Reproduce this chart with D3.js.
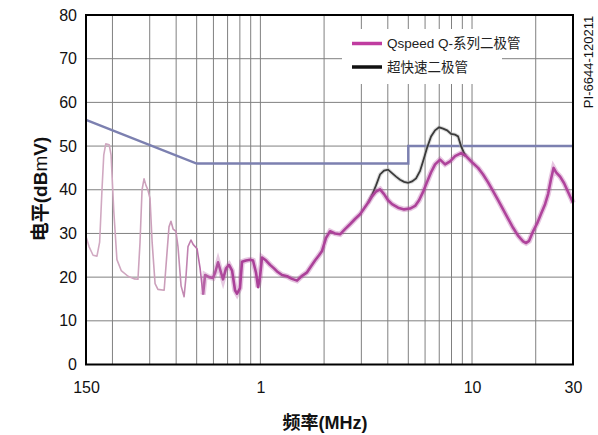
<!DOCTYPE html>
<html>
<head>
<meta charset="utf-8">
<script src="https://cdn.jsdelivr.net/npm/d3@7"></script>
<style>
  body { margin: 0; background: #fff; }
  svg { display: block; font-family: "Liberation Sans", Arial, "Noto Sans CJK SC", sans-serif; }
</style>
</head>
<body>
<div id="chart"></div>
<script>
// frequency (MHz) and level (dBµV)
var qFreq = [0.150, 0.155, 0.162, 0.169, 0.174, 0.1785, 0.182, 0.186, 0.193, 0.197, 0.203, 0.210, 0.220, 0.237, 0.253, 0.264,
  0.270, 0.276, 0.282, 0.288, 0.294, 0.301, 0.308, 0.318, 0.328, 0.351, 0.360, 0.370, 0.378, 0.387, 0.399, 0.408,
  0.422, 0.436, 0.445, 0.455, 0.470, 0.481, 0.502, 0.519, 0.536, 0.548, 0.572, 0.597, 0.611, 0.631, 0.652, 0.666,
  0.688, 0.711, 0.735, 0.759, 0.776, 0.801, 0.819, 0.855, 0.894, 0.923, 0.954, 0.975, 0.996, 1.018, 1.064, 1.111,
  1.160, 1.199, 1.266, 1.337, 1.411, 1.490, 1.574, 1.662, 1.736, 1.812, 1.893, 1.956, 2.043, 2.134, 2.253, 2.379,
  2.512, 2.652, 2.801, 2.958, 3.089, 3.226, 3.370, 3.520, 3.677, 3.840, 4.011, 4.189, 4.475, 4.776, 5.097, 5.382,
  5.622, 5.871, 6.133, 6.405, 6.69, 7.065, 7.461, 7.878, 8.316, 8.877, 9.375, 10.0, 10.68, 11.28, 11.91, 12.57,
  13.28, 14.02, 14.80, 15.63, 16.50, 17.43, 18.02, 18.61, 19.44, 20.3, 21.2, 22.14, 22.88, 23.64, 24.29, 24.96,
  26.07, 27.24, 28.44, 29.71, 30.0];
var qLevel = [29.3, 27, 25, 24.8, 28, 40, 48, 50.5, 50.3, 48, 35, 24, 21.5, 20.2, 19.6, 19.5,
  28, 40, 42.5, 41, 40, 38, 28, 18.5, 17.2, 17, 24, 31.5, 32.8, 31, 30.5, 27,
  18, 15.5, 20, 27, 28.5, 27.5, 26.5, 22, 16, 20.5, 20, 19.8, 21, 23.4, 21, 19.5,
  22, 22.8, 21.5, 17, 16.2, 17.5, 23.5, 23.8, 24, 23.8, 21, 17.7, 20, 24.5, 23.8, 22.8,
  22, 21.3, 20.5, 20.2, 19.6, 19.2, 20.3, 21.1, 22.5, 23.8, 25, 26, 29, 30.5, 30, 29.8,
  31, 32.1, 33.3, 34.4, 35.7, 37, 38.5, 39.6, 40.1, 39, 37.6, 36.7, 35.9, 35.5, 35.7, 36.3,
  37.6, 39.5, 41.8, 44, 45.8, 46.9, 45.8, 46.5, 47.7, 48.4, 47.7, 46.3, 45, 43.5, 41.7, 39.7,
  37.6, 35.5, 33.4, 31.3, 29.5, 28.2, 27.8, 28.3, 30.5, 32.3, 34.5, 36.7, 39, 42.5, 45, 44,
  43, 41.5, 39.5, 37.5, 37];

var ufFreq = [3.226, 3.370, 3.520, 3.677, 3.840, 4.011, 4.189, 4.376, 4.571, 4.776, 4.988, 5.21, 5.44, 5.682, 5.871,
  6.133, 6.405, 6.69, 6.988, 7.3, 7.623, 7.962, 8.316, 8.592, 8.877, 9.174, 9.375];
var ufLevel = [37, 38.8, 41, 43.5, 44.4, 44.6, 43.8, 43, 42.3, 41.8, 41.6, 41.9, 42.6, 44.3, 46.5,
  49.6, 52.2, 53.6, 54.3, 54, 53.6, 52.8, 52.6, 52.2, 50, 48.4, 47.7];

var limitFreq = [0.15, 0.5, 5, 5, 30];
var limitLevel = [56, 46, 46, 50, 50];

var yTicks = [0, 10, 20, 30, 40, 50, 60, 70, 80];
var xGrid = [0.2, 0.3, 0.4, 0.5, 0.6, 0.7, 0.8, 0.9, 1, 2, 3, 4, 5, 6, 7, 8, 9, 10, 20];
var xTicks = [0.15, 1, 10, 30];
var xTickLabels = ["150", "1", "10", "30"];

var legendNames = ["Qspeed Q-系列二极管", "超快速二极管"];

function init(){
  var w = 598, h = 435;
  var left = 86, top = 15, right = 573, bottom = 364.5;
  var split = 0.536; // thin faint trace below this frequency

  var x = d3.scaleLog().domain([0.15, 30]).range([left, right]);
  var y = d3.scaleLinear().domain([0, 80]).range([bottom, top]);

  var svg = d3.select("#chart").append("svg")
      .attr("width", w)
      .attr("height", h);

  var defs = svg.append("defs");
  var grad = defs.append("linearGradient")
      .attr("id", "qgrad")
      .attr("gradientUnits", "userSpaceOnUse")
      .attr("x1", left).attr("x2", right)
      .attr("y1", 0).attr("y2", 0);
  var stops = [[0, "#d2abc3"], [0.16, "#cb9fba"], [0.2, "#c38ab2"], [0.25, "#b45ba4"], [0.3, "#aa4098"], [1, "#b0449c"]];
  grad.selectAll("stop").data(stops).enter().append("stop")
      .attr("offset", function(d){ return d[0]; })
      .attr("stop-color", function(d){ return d[1]; });

  // grid
  svg.append("g").selectAll("line")
      .data(xGrid)
      .enter().append("line")
      .attr("x1", function(d){ return x(d); })
      .attr("x2", function(d){ return x(d); })
      .attr("y1", top).attr("y2", bottom)
      .attr("stroke", "#808080").attr("stroke-width", 1);

  svg.append("g").selectAll("line")
      .data(yTicks.slice(1, -1))
      .enter().append("line")
      .attr("x1", left).attr("x2", right)
      .attr("y1", function(d){ return y(d); })
      .attr("y2", function(d){ return y(d); })
      .attr("stroke", "#808080").attr("stroke-width", 1);

  // legend background hides the grid
  svg.append("rect")
      .attr("x", 342).attr("y", 29)
      .attr("width", 160).attr("height", 55)
      .attr("fill", "#fff");

  var line = d3.line()
      .x(function(d){ return x(d[0]); })
      .y(function(d){ return y(d[1]); });

  // limit line
  svg.append("path")
      .datum(d3.zip(limitFreq, limitLevel))
      .attr("d", line)
      .attr("fill", "none")
      .attr("stroke", "#7c80b0")
      .attr("stroke-width", 2.5);

  // ultrafast diode
  svg.append("path")
      .datum(d3.zip(ufFreq, ufLevel))
      .attr("d", line)
      .attr("fill", "none")
      .attr("stroke", "#bbb")
      .attr("stroke-width", 4)
      .attr("stroke-opacity", 0.5);
  svg.append("path")
      .datum(d3.zip(ufFreq, ufLevel))
      .attr("d", line)
      .attr("fill", "none")
      .attr("stroke", "#3a3a3a")
      .attr("stroke-width", 1.8);

  // qspeed
  var qData = d3.zip(qFreq, qLevel);
  var qLow = qData.filter(function(d){ return d[0] <= split; });
  var qHigh = qData.filter(function(d){ return d[0] >= split; });

  svg.append("path")
      .datum(qLow)
      .attr("d", line)
      .attr("fill", "none")
      .attr("stroke", "url(#qgrad)")
      .attr("stroke-width", 1.6)
      .attr("stroke-linejoin", "round");

  svg.append("path")
      .datum(qHigh)
      .attr("d", line)
      .attr("fill", "none")
      .attr("stroke", "url(#qgrad)")
      .attr("stroke-opacity", 0.3)
      .attr("stroke-width", 5.5);
  svg.append("path")
      .datum(qHigh)
      .attr("d", line)
      .attr("fill", "none")
      .attr("stroke", "url(#qgrad)")
      .attr("stroke-width", 2.6)
      .attr("stroke-linejoin", "round");

  // frame
  svg.append("rect")
      .attr("x", left).attr("y", top)
      .attr("width", right - left).attr("height", bottom - top)
      .attr("fill", "none")
      .attr("stroke", "#000")
      .attr("stroke-width", 2);

  // axes
  var yAxis = d3.axisLeft(y).tickValues(yTicks).tickSize(0).tickPadding(9);
  svg.append("g")
      .attr("transform", "translate(" + left + ",0)")
      .call(yAxis)
      .call(function(g){ g.select(".domain").remove(); })
      .selectAll("text")
      .attr("font-size", 16)
      .attr("font-family", "Liberation Sans, Arial, sans-serif")
      .attr("fill", "#111");

  var xAxis = d3.axisBottom(x).tickValues(xTicks).tickSize(0).tickPadding(17)
      .tickFormat(function(d, i){ return xTickLabels[i]; });
  svg.append("g")
      .attr("transform", "translate(0," + bottom + ")")
      .call(xAxis)
      .call(function(g){ g.select(".domain").remove(); })
      .selectAll("text")
      .attr("font-size", 16)
      .attr("font-family", "Liberation Sans, Arial, sans-serif")
      .attr("fill", "#111");

  // axis titles
  var yt = svg.append("text")
      .attr("transform", "translate(47,189) rotate(-90)")
      .attr("text-anchor", "middle")
      .attr("font-size", 19)
      .attr("font-weight", "bold")
      .attr("fill", "#111");
  yt.append("tspan").text("电平(dB");
  yt.append("tspan").attr("font-weight", "normal").text("m");
  yt.append("tspan").text("V)");

  svg.append("text")
      .attr("x", 325).attr("y", 429)
      .attr("text-anchor", "middle")
      .attr("font-size", 18)
      .attr("font-weight", "bold")
      .attr("fill", "#111")
      .text("频率(MHz)");

  svg.append("text")
      .attr("transform", "translate(593,62) rotate(-90)")
      .attr("text-anchor", "middle")
      .attr("font-size", 13)
      .attr("fill", "#111")
      .text("PI-6644-120211");

  // legend
  var legColors = ["#c03ca0", "#111"];
  var leg = svg.append("g").selectAll("g")
      .data(legendNames)
      .enter().append("g")
      .attr("transform", function(d, i){ return "translate(352," + (43.5 + i * 23.5) + ")"; });
  leg.append("line")
      .attr("x1", 0).attr("x2", 30)
      .attr("stroke", function(d, i){ return legColors[i]; })
      .attr("stroke-width", 3.5);
  leg.append("text")
      .attr("x", 35).attr("dy", "0.35em")
      .attr("font-size", 13.5)
      .attr("fill", "#222")
      .attr("font-family", "Liberation Sans, Arial, 'Noto Sans CJK SC', sans-serif")
      .text(function(d){ return d; });
}

window.onload = init;
</script>
</body>
</html>
